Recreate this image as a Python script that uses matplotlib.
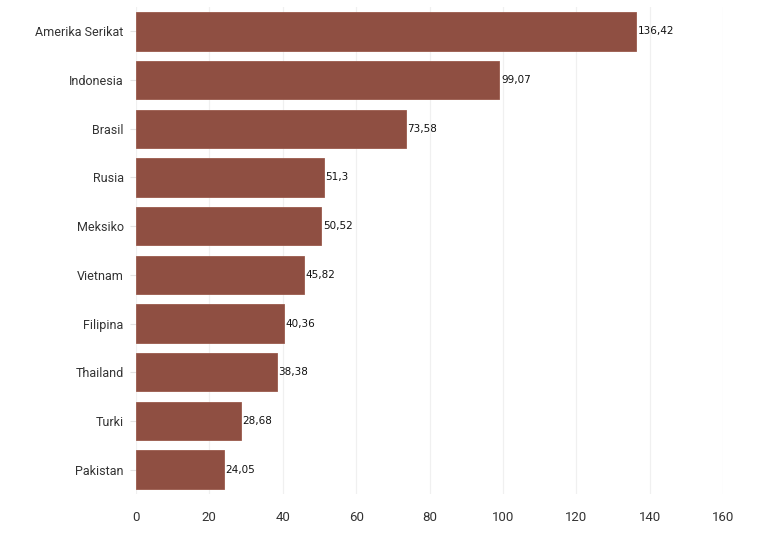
import matplotlib
matplotlib.use("Agg")
import matplotlib.pyplot as plt

countries = ["Amerika Serikat", "Indonesia", "Brasil", "Rusia", "Meksiko",
             "Vietnam", "Filipina", "Thailand", "Turki", "Pakistan"]
values = [136.42, 99.07, 73.58, 51.3, 50.52, 45.82, 40.36, 38.38, 28.68, 24.05]
labels = ["136,42", "99,07", "73,58", "51,3", "50,52",
          "45,82", "40,36", "38,38", "28,68", "24,05"]
xticks = [0, 20, 40, 60, 80, 100, 120, 140, 160]

fig = plt.figure(figsize=(7.67, 5.33), dpi=100)
ax = fig.add_axes([136/767, 1-494/533, 587/767, 487/533])

y = list(range(len(countries)))
ax.barh(y, values, height=0.79, color="#8f4f42", edgecolor="#9a5a4c", linewidth=0.6, zorder=2)

for yi, v, lab in zip(y, values, labels):
    ax.text(v + 0.4, yi, lab, va="center", ha="left", fontsize=7.5,
            family="DejaVu Sans", color="#111111")

ax.set_ylim(len(countries) - 0.5, -0.5)
ax.set_xlim(0, 160)
ax.set_yticks(y)
ax.set_yticklabels(countries, family="Roboto", fontsize=9, color="#333333")
ax.set_xticks(xticks)
ax.set_xticklabels([str(t) for t in xticks], family="Roboto", fontsize=9.5, color="#333333")

ax.grid(axis="x", color="#f0f0f0", linewidth=0.9, zorder=0)
for s in ax.spines.values():
    s.set_visible(False)
ax.tick_params(axis="y", length=4, color="#e3e3e3", pad=5)
ax.tick_params(axis="x", length=0, pad=12)

fig.savefig("out.png", dpi=100)
